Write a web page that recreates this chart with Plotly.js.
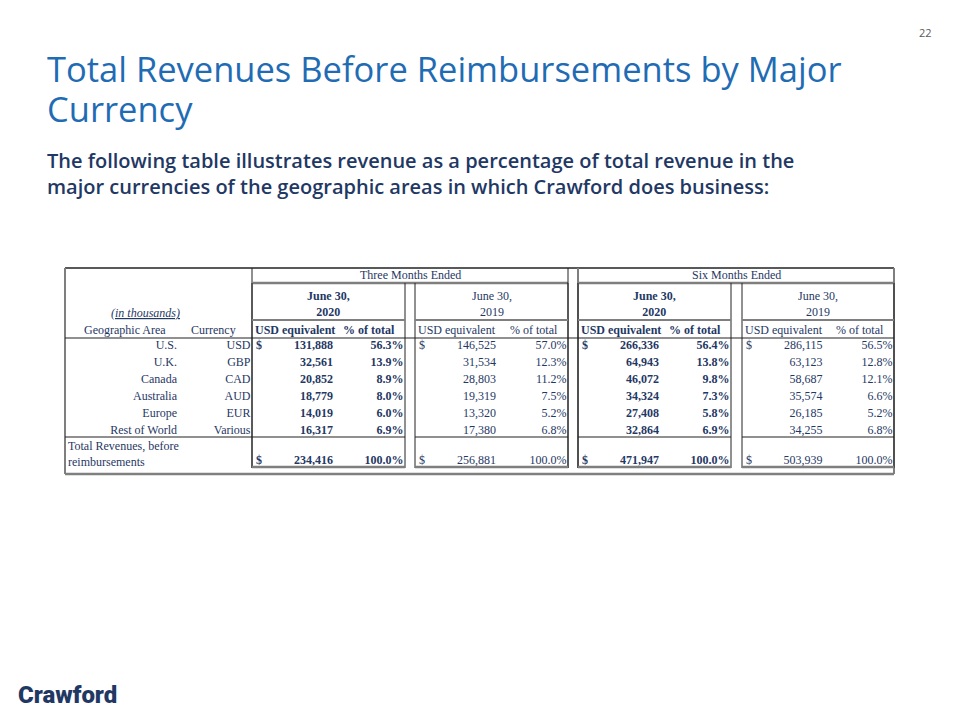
<!DOCTYPE html>
<html>
<head>
<meta charset="utf-8">
<script src="https://cdn.plot.ly/plotly-3.0.1.min.js"></script>
<style>
  html, body { margin: 0; padding: 0; background: #fff; }
  #chart { width: 960px; height: 720px; }
</style>
</head>
<body>
<div id="chart"></div>
<script>
// table values (in thousands of USD)
const regions = ['U.S.', 'U.K.', 'Canada', 'Australia', 'Europe', 'Rest of World'];
const currencies = ['USD', 'GBP', 'CAD', 'AUD', 'EUR', 'Various'];

const q2020Usd = [131888, 32561, 20852, 18779, 14019, 16317];
const q2020Pct = [56.3, 13.9, 8.9, 8.0, 6.0, 6.9];
const q2019Usd = [146525, 31534, 28803, 19319, 13320, 17380];
const q2019Pct = [57.0, 12.3, 11.2, 7.5, 5.2, 6.8];
const h2020Usd = [266336, 64943, 46072, 34324, 27408, 32864];
const h2020Pct = [56.4, 13.8, 9.8, 7.3, 5.8, 6.9];
const h2019Usd = [286115, 63123, 58687, 35574, 26185, 34255];
const h2019Pct = [56.5, 12.8, 12.1, 6.6, 5.2, 6.8];

const totalUsd = [234416, 256881, 471947, 503939];
const totalPct = [100.0, 100.0, 100.0, 100.0];

const periodLabels = ['Three Months Ended', 'Six Months Ended'];
const dateLabels = ['June 30,<br>2020', 'June 30,<br>2019', 'June 30,<br>2020', 'June 30,<br>2019'];

const titleLines = ['Total Revenues Before Reimbursements by Major', 'Currency'];
const subtitleLines = [
    'The following table illustrates revenue as a percentage of total revenue in the',
    'major currencies of the geographic areas in which Crawford does business:',
];

const NAVY = '#1F3864';
const SERIF = '"Liberation Serif", "Times New Roman", serif';
const LINE = '#222';
const GREY = '#7f7f7f';

// geometry of the slide (pixels, axis runs 0..960 / 0..720)
const tbl = { left: 65, right: 894, top: 268, bottom: 474 };
const colA = 252;
const groups = [
    { x0: 252, x1: 405, usd: q2020Usd, pct: q2020Pct, bold: true },
    { x0: 415, x1: 568, usd: q2019Usd, pct: q2019Pct, bold: false },
    { x0: 578, x1: 731, usd: h2020Usd, pct: h2020Pct, bold: true },
    { x0: 742, x1: 894, usd: h2019Usd, pct: h2019Pct, bold: false },
];
const rowTop = 345.5;
const rowStep = 17;
const totalY = 461;
const rowY = regions.map((_, i) => rowTop + i * rowStep);

const fmtUsd = v => v.toLocaleString('en-US');
const fmtPct = v => v.toFixed(1) + '%';

function textTrace(xs, ys, texts, pos, bold, size) {
    return {
        type: 'scatter',
        mode: 'text',
        x: xs,
        y: ys,
        text: texts,
        textposition: pos,
        textfont: { family: SERIF, size: size || 12, color: NAVY, weight: bold ? 'bold' : 'normal' },
        hoverinfo: 'skip',
        showlegend: false,
        cliponaxis: false,
    };
}

const traces = [];

// row labels and currencies
traces.push(textTrace(regions.map(() => 177), rowY, regions, 'middle left'));
traces.push(textTrace(currencies.map(() => 250.5), rowY, currencies, 'middle left'));

groups.forEach(g => {
    const usdX = g.x0 + (g.x1 - g.x0) * 0.53;
    const pctX = g.x1 - 1.5;
    traces.push(textTrace(g.usd.map(() => usdX), rowY, g.usd.map(fmtUsd), 'middle left', g.bold));
    traces.push(textTrace(g.pct.map(() => pctX), rowY, g.pct.map(fmtPct), 'middle left', g.bold));
});

// first row dollar signs and totals
groups.forEach((g, gi) => {
    const usdX = g.x0 + (g.x1 - g.x0) * 0.53;
    traces.push(textTrace([g.x0 + 4, g.x0 + 4], [rowY[0], totalY], ['$', '$'], 'middle right', g.bold));
    traces.push(textTrace([usdX], [totalY], [fmtUsd(totalUsd[gi])], 'middle left', g.bold));
    traces.push(textTrace([g.x1 - 1.5], [totalY], [fmtPct(totalPct[gi])], 'middle left', g.bold));
});

// table lines
const shapes = [];
function hline(x0, x1, y, color, width) {
    shapes.push({ type: 'line', xref: 'x', yref: 'y', x0, x1, y0: y, y1: y, line: { color, width } });
}
function vline(x, y0, y1, color, width) {
    shapes.push({ type: 'line', xref: 'x', yref: 'y', x0: x, x1: x, y0, y1, line: { color, width } });
}

// outer frame
hline(tbl.left, tbl.right, tbl.top, LINE, 1.5);
hline(tbl.left, tbl.right, tbl.bottom, GREY, 2.5);
vline(tbl.left, tbl.top, tbl.bottom, GREY, 2);
vline(tbl.right, tbl.top, tbl.bottom, GREY, 2);
vline(colA, tbl.top, 468, LINE, 1);

// period headers
hline(252, 568, 283, GREY, 2.5);
hline(578, 894, 283, GREY, 2.5);
vline(568, tbl.top, 468, LINE, 1);
vline(578, tbl.top, 468, GREY, 2);

// column groups
groups.forEach(g => {
    vline(g.x0, 283, 468, LINE, 1);
    vline(g.x1, 283, 468, LINE, 1);
    hline(g.x0, g.x1, 320, GREY, 2);
    hline(g.x0, g.x1, 437, LINE, 1.2);
    hline(g.x0, g.x1, 467, GREY, 2.5);
});
hline(tbl.left, colA, 437, LINE, 1.2);
hline(tbl.left, tbl.right, 338, LINE, 1.2);

// annotations (headers and slide text)
const annotations = [];
function note(text, x, y, xanchor, opts) {
    annotations.push(Object.assign({
        text, x, y, xref: 'x', yref: 'y', xanchor, yanchor: 'middle', showarrow: false,
        font: { family: SERIF, size: 12, color: NAVY },
    }, opts || {}));
}

note(periodLabels[0], 410, 275, 'center');
note(periodLabels[1], 736, 275, 'center');
groups.forEach((g, gi) => {
    const cx = (g.x0 + g.x1) / 2;
    const f = { family: SERIF, size: 12, color: NAVY, weight: g.bold ? 'bold' : 'normal' };
    note(dateLabels[gi], cx, 304, 'center', { font: f });
    note('USD equivalent', g.x0 + 1, 330, 'left', { font: f });
    note('% of total', g.x1 - 8, 330, 'right', { font: f });
});
note('<i><u>(in thousands)</u></i>', 145, 313, 'center');
note('Geographic Area', 125, 330, 'center');
note('Currency', 213, 330, 'center');
note('Total Revenues, before<br>reimbursements', 66, 454, 'left', { align: 'left' });

// slide title, subtitle, page number and logo
const SANS = '"Open Sans", "Noto Sans", sans-serif';
const titleY = [68, 108];
titleLines.forEach((t, i) => {
    note(t, 45, titleY[i], 'left', { font: { family: SANS, size: 34.5, color: '#1F6CB4' } });
});
const subY = [160, 186];
subtitleLines.forEach((t, i) => {
    note(t, 45, subY[i], 'left', { font: { family: SANS, size: 20, color: '#1F3864', weight: 600 } });
});
note('22', 925, 32, 'center', { font: { family: SANS, size: 11, color: '#595959' } });
note('Crawford', 16, 695, 'left', {
    font: { family: 'Roboto, "DejaVu Sans", sans-serif', size: 24, color: '#1F3864', weight: 900 },
});

const layout = {
    width: 960,
    height: 720,
    margin: { l: 0, r: 0, t: 0, b: 0 },
    paper_bgcolor: '#ffffff',
    plot_bgcolor: '#ffffff',
    showlegend: false,
    xaxis: { range: [0, 960], visible: false, fixedrange: true },
    yaxis: { range: [720, 0], visible: false, fixedrange: true },
    shapes,
    annotations,
};

Plotly.newPlot('chart', traces, layout, { staticPlot: true, displayModeBar: false });
</script>
</body>
</html>
